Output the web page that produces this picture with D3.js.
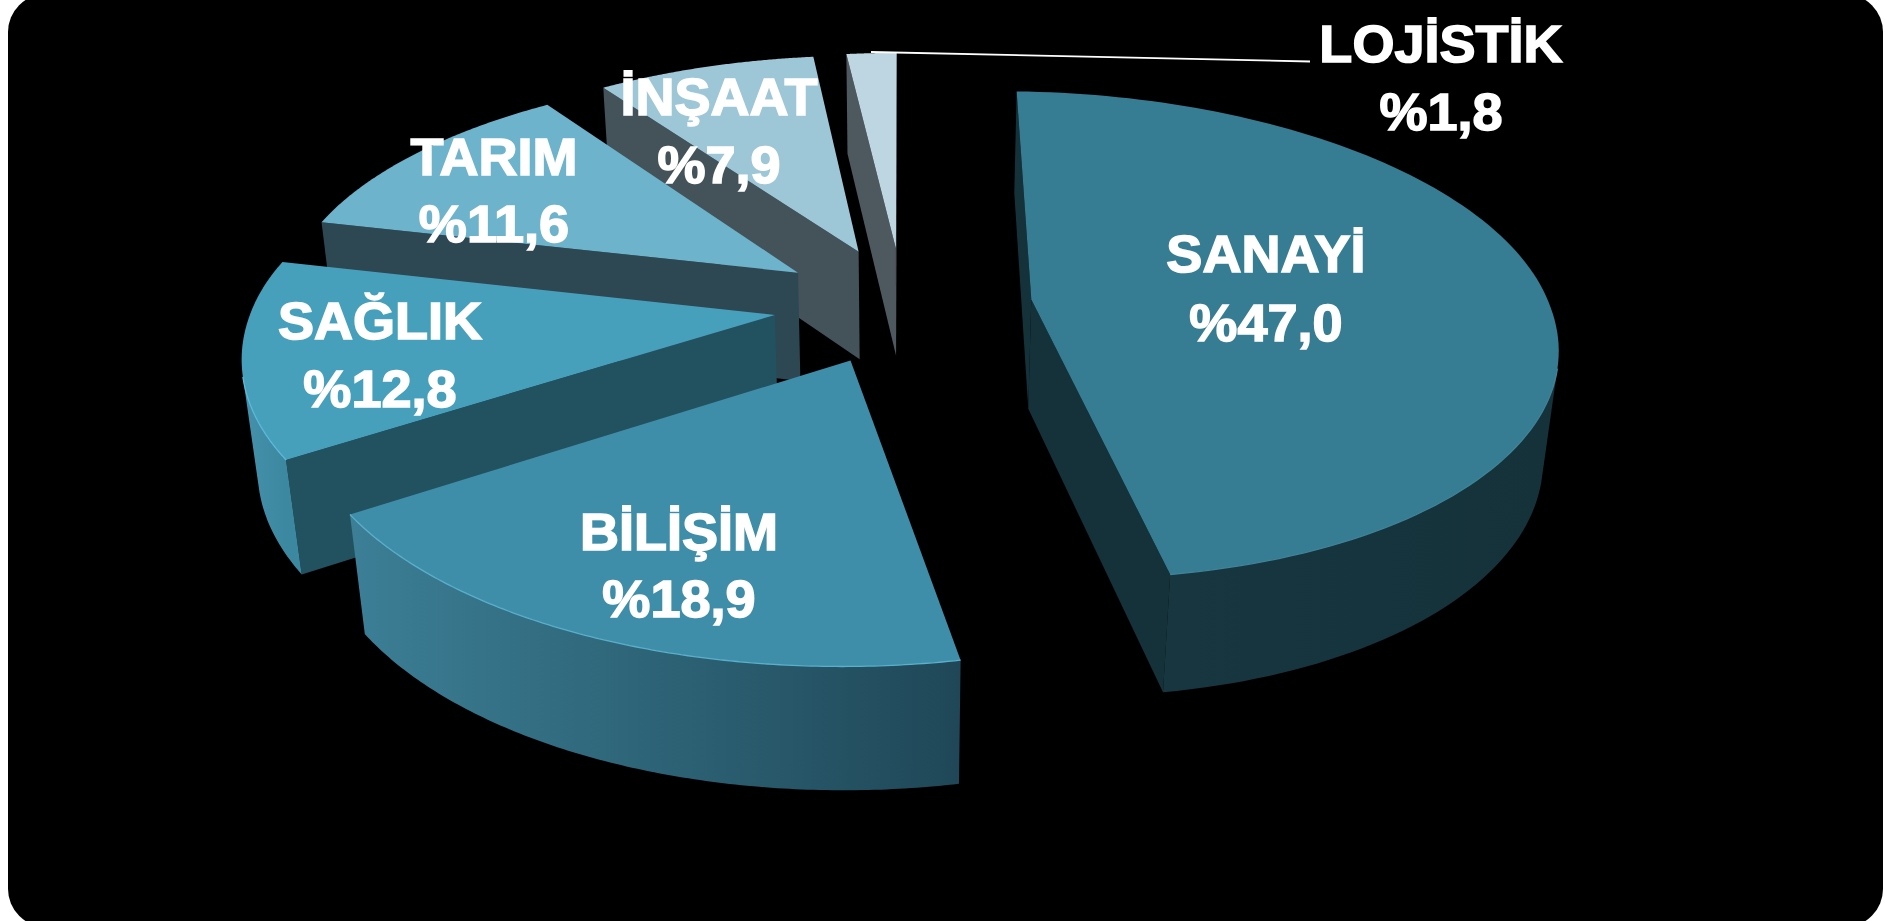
<!DOCTYPE html>
<html><head><meta charset="utf-8">
<script src="https://cdn.jsdelivr.net/npm/d3@7"></script>
<style>html,body{margin:0;padding:0;background:#fff;overflow:hidden}svg{display:block}</style>
</head><body><div id="chart"></div>
<script>
// data
const categories = ["SANAYİ","BİLİŞİM","SAĞLIK","TARIM","İNŞAAT","LOJİSTİK"];
const shares = [47.0,18.9,12.8,11.6,7.9,1.8];
const shareLabels = ["%47,0","%18,9","%12,8","%11,6","%7,9","%1,8"];
// styles
const topColors = ["#367c93","#3f8ea9","#46a0bc","#6db3cc","#9dc6d7","#bdd6e1"];
const wallColors = ["#15323a","#204858","#22525f","#2d4753","#445259","#4e595f"];
const rimFrom = ["#15323a","#1f4757","#3d88a1","#2d4753","#445259","#4e595f"];
const rimTo = ["#173640","#3c7f96","#4590aa","#2d4753","#445259","#4e595f"];
const edgeColors = ["#3f8499","#5ab0cc","#5bbbdc",null,null,null];
// per-slice shape of the drawn wedge
const explode = [0.25,0.25,0.25,0.25,0.25,0.25];
const radiusX = [1.002,1.024,1.01,1,0.995,1];
const radiusBack = [1.01,1.05,1,1,1,1];
const radiusFront = [1.04,1.06,1.05,1,1,1];
const shear = [0.03,0,0,0,0,0];
const leanFront = [0.014,0,-0.008,0,0,0];
const leanBack = [0,0,0,0.008,0,0];
const depthScale = [1,1.03,1,1,1,1];
const labelX = [1266,679,380,494,719,1441];
const labelY1 = [272,550,339,175,115,62];
const labelY2 = [341,617,407,242,183,130];

const W=1885,H=921;
const view={cx:903,cy:305,A:517,B:234,D:112,u:0.128,v:0.024};
const project=(X,Y,Z)=>{const w=1-view.u*Y+view.v*Z;
  return [view.cx+view.A*X/w, view.cy+(view.B*Y+view.D*Z)/w];};
const svg=d3.select("#chart").append("svg").attr("width",W).attr("height",H);
const defs=svg.append("defs");
svg.append("rect").attr("x",8).attr("y",-6).attr("width",1875).attr("height",933).attr("rx",38).attr("fill","#000");

const pie=d3.pie().sort(null).startAngle(0).endAngle(2*Math.PI);
const arcs=pie(shares).map((a,i)=>{
  const mid=(a.startAngle+a.endAngle)/2;
  return {i,start:a.startAngle,end:a.endAngle,mid,
    ex:explode[i]*Math.sin(mid),ey:-explode[i]*Math.cos(mid)};
});
const line=d3.line();
const closed=pts=>line(pts)+"Z";
const order=arcs.slice().sort((p,q)=>p.ey-q.ey);
const g=svg.append("g");
order.forEach(s=>{
  const i=s.i;
  const rim=t=>{const c=Math.cos(t),sn=Math.sin(t);
    return [s.ex+radiusX[i]*sn+(c>0?leanBack[i]*c:-leanFront[i]*c),
            s.ey-c*(c>0?radiusBack[i]:radiusFront[i])+shear[i]*sn];};
  const P=(pt,z)=>project(pt[0],pt[1],z*depthScale[i]);
  const apex=[s.ex,s.ey];
  const ts=d3.range(0,121).map(k=>s.start+(s.end-s.start)*k/120);
  const slice=g.append("g").attr("class","slice");
  const quad=(a,b)=>[P(a,0),P(b,0),P(b,1),P(a,1)];
  const wall=(a,b,c)=>{
    const q=quad(a,b);
    if(d3.polygonArea(q)>0) slice.append("path").attr("d",closed(q)).attr("fill",c);
  };
  wall(apex,rim(s.start),wallColors[i]);
  wall(rim(s.end),apex,wallColors[i]);
  const seen=ts.filter((t,k)=>k<120&&d3.polygonArea(quad(rim(t),rim(ts[k+1])))>0 || (k>0&&d3.polygonArea(quad(rim(ts[k-1]),rim(t)))>0));
  if(seen.length>1){
    const upper=seen.map(t=>P(rim(t),0)), lower=seen.map(t=>P(rim(t),1)).reverse();
    const id="rim"+i;
    const grad=defs.append("linearGradient").attr("id",id).attr("gradientUnits","userSpaceOnUse")
      .attr("x1",upper[0][0]).attr("y1",0).attr("x2",upper[upper.length-1][0]+0.01).attr("y2",0);
    grad.append("stop").attr("offset",0).attr("stop-color",rimFrom[i]);
    grad.append("stop").attr("offset",1).attr("stop-color",rimTo[i]);
    slice.append("path").attr("d",closed(upper.concat(lower))).attr("fill",`url(#${id})`);
  }
  const top=[P(apex,0)].concat(ts.map(t=>P(rim(t),0)));
  slice.append("path").attr("d",closed(top)).attr("fill",topColors[i]);
  if(edgeColors[i]&&seen.length>1){
    slice.append("path").attr("d",line(seen.map(t=>P(rim(t),0)))).attr("fill","none").attr("stroke",edgeColors[i]).attr("stroke-width",1.3);
  }
});
// leader line for the smallest slice
svg.append("path").attr("d",line([[871,52],[1310,61.5]])).attr("stroke","#fff").attr("stroke-width",1.8).attr("fill","none");
const tg=svg.append("g").attr("font-family","'Liberation Sans',Arial,sans-serif").attr("font-weight","700").attr("font-size",51).attr("fill","#fff").attr("stroke","#fff").attr("stroke-width",1.5).attr("text-anchor","middle");
const label=(x,y,t)=>tg.append("text").attr("transform",`translate(${x},${y}) scale(1.06,1)`).text(t);
categories.forEach((c,i)=>{
  label(labelX[i],labelY1[i],c);
  label(labelX[i],labelY2[i],shareLabels[i]);
});
</script></body></html>
